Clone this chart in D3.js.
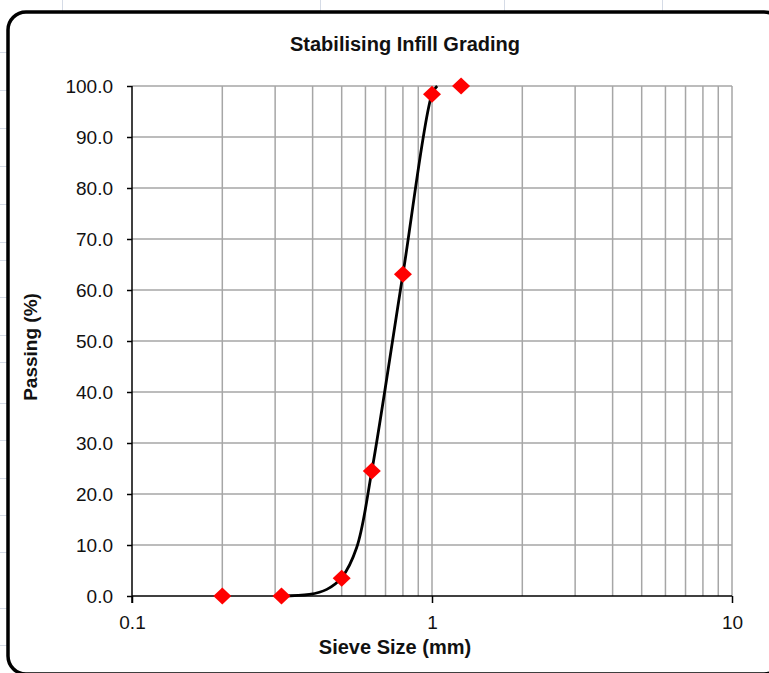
<!DOCTYPE html>
<html><head><meta charset="utf-8">
<script src="https://cdn.jsdelivr.net/npm/d3@7"></script>
<style>
body{margin:0;background:#fff}
svg{display:block}
text{font-family:"Liberation Sans",Arial,sans-serif}
</style>
</head><body>
<script>
// ---- data ----
const sieveSizes = [0.2, 0.315, 0.5, 0.63, 0.8, 1.0, 1.25];
const passing    = [0.0, 0.0, 3.5, 24.5, 63.1, 98.4, 100.0];
// smooth grading curve
const curveSizes   = [0.315, 0.39, 0.446, 0.5, 0.561, 0.63, 0.8, 1.0, 1.04];
const curvePassing = [0.0, 0.3, 1.3, 3.6, 9.5, 24.5, 63.1, 98.4, 100.0];
const yTicks = [0,10,20,30,40,50,60,70,80,90,100];
const xMajorTicks = [0.1, 1, 10];
const xMinorGrid = [0.2,0.3,0.4,0.5,0.6,0.7,0.8,0.9,2,3,4,5,6,7,8,9];
const titleText = "Stabilising Infill Grading";
const xTitle = "Sieve Size (mm)";
const yTitle = "Passing (%)";

const W = 769, H = 673;
const svg = d3.select("body").append("svg").attr("width", W).attr("height", H);

// faint spreadsheet grid behind the chart frame
const sheet = svg.append("g").attr("stroke", "#d5dbe6").attr("stroke-width", 1);
[62, 320, 504, 662].forEach(x => sheet.append("line").attr("x1", x+0.5).attr("x2", x+0.5).attr("y1", 0).attr("y2", 14));
[52, 90, 128, 166, 204, 242, 260, 297, 335, 362, 403, 440, 478, 515, 552, 608, 645].forEach(y => sheet.append("line").attr("x1", 0).attr("x2", 8).attr("y1", y+0.5).attr("y2", y+0.5));

// chart frame
svg.append("rect").attr("x", 8).attr("y", 12).attr("width", 774).attr("height", 662)
  .attr("rx", 18).attr("fill", "#fff").attr("stroke", "#000").attr("stroke-width", 3.5);

const x = d3.scaleLog().domain([0.1, 10]).range([132, 732]);
const y = d3.scaleLinear().domain([0, 100]).range([596, 86]);

// gridlines
const grid = svg.append("g").attr("stroke", "#a6a6a6").attr("stroke-width", 1.5);
xMinorGrid.concat([1, 10]).forEach(v => grid.append("line")
  .attr("x1", x(v)).attr("x2", x(v)).attr("y1", y(0)).attr("y2", y(100)));
yTicks.filter(v => v > 0).forEach(v => grid.append("line")
  .attr("x1", x(0.1)).attr("x2", x(10)).attr("y1", y(v)).attr("y2", y(v)));

// y axis
const yAxis = d3.axisLeft(y).tickValues(yTicks).tickFormat(d3.format(".1f")).tickSize(5).tickPadding(14);
const gy = svg.append("g").attr("transform", `translate(${x(0.1)},0)`).call(yAxis);
gy.select(".domain").attr("stroke", "#000").attr("stroke-width", 1.5).attr("d", `M0,${y(100)}V${y(0)+7}`);
gy.selectAll(".tick line").attr("stroke", "#000").attr("stroke-width", 1.5);
gy.selectAll(".tick text").attr("font-size", 19).attr("fill", "#111").attr("font-family", '"Liberation Sans",Arial,sans-serif');

// x axis
const xAxis = d3.axisBottom(x).tickValues(xMajorTicks).tickFormat(d3.format("")).tickSize(7).tickPadding(13);
const gx = svg.append("g").attr("transform", `translate(0,${y(0)})`).call(xAxis);
gx.select(".domain").attr("stroke", "#000").attr("stroke-width", 1.5).attr("d", `M${x(0.1)},0H${x(10)}`);
gx.selectAll(".tick line").attr("stroke", "#000").attr("stroke-width", 1.5);
gx.selectAll(".tick text").attr("font-size", 19).attr("fill", "#111").attr("font-family", '"Liberation Sans",Arial,sans-serif');

// curve
const curvePts = curveSizes.map((s, i) => [s, curvePassing[i]]);
svg.append("path").datum(curvePts)
  .attr("fill", "none").attr("stroke", "#000").attr("stroke-width", 2.8)
  .attr("d", d3.line().x(d => x(d[0])).y(d => y(d[1])).curve(d3.curveCatmullRom.alpha(0.5)));

// markers (red diamonds)
const pts = sieveSizes.map((s, i) => [s, passing[i]]);
svg.append("g").selectAll("path").data(pts).join("path")
  .attr("transform", d => `translate(${x(d[0])},${y(d[1])})`)
  .attr("d", "M0,-8.5L9,0L0,8.5L-9,0Z").attr("fill", "#ff0000");

// titles
svg.append("text").attr("x", 405).attr("y", 51).attr("text-anchor", "middle")
  .attr("font-size", 20).attr("font-weight", "bold").attr("fill", "#111").text(titleText);
svg.append("text").attr("x", 395).attr("y", 654).attr("text-anchor", "middle")
  .attr("font-size", 20).attr("font-weight", "bold").attr("fill", "#111").text(xTitle);
svg.append("text").attr("transform", "translate(37,347) rotate(-90)").attr("text-anchor", "middle")
  .attr("font-size", 19).attr("font-weight", "bold").attr("fill", "#111").text(yTitle);
</script>
</body></html>
